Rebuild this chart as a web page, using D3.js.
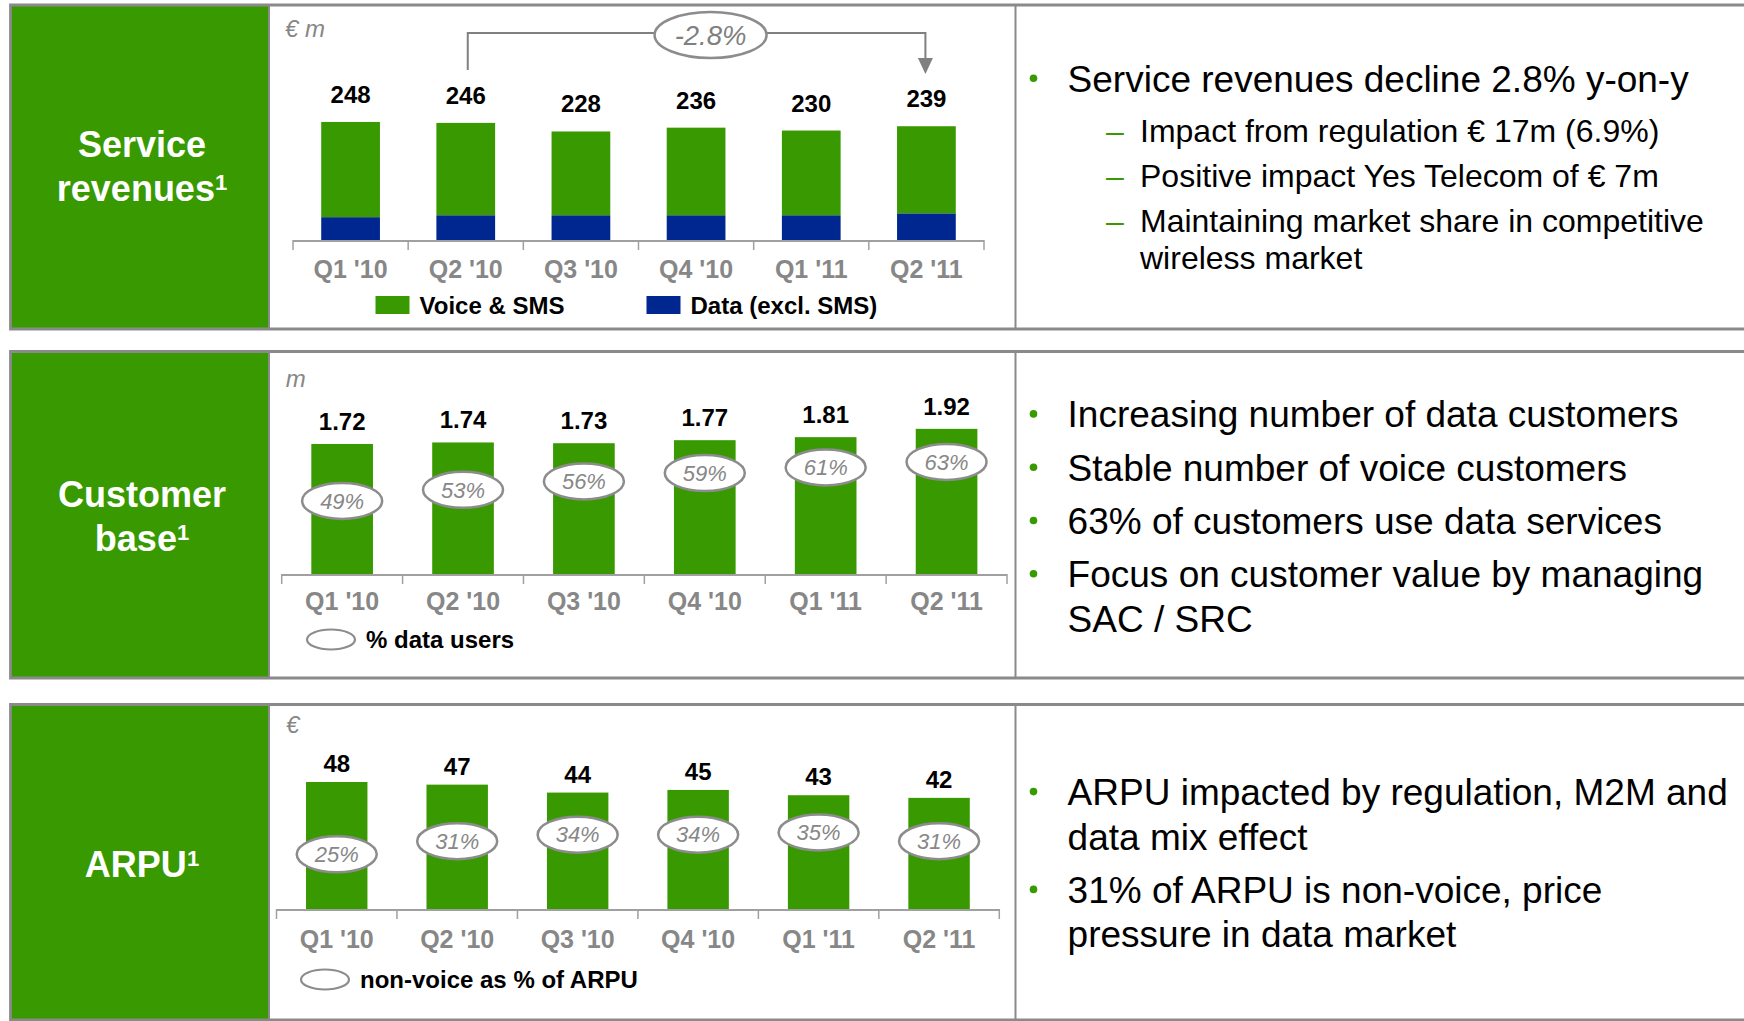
<!DOCTYPE html>
<html>
<head>
<meta charset="utf-8">
<script src="https://cdn.jsdelivr.net/npm/d3@7"></script>
<style>
  html, body { margin: 0; padding: 0; background: #fff; }
  svg { display: block; font-family: "Liberation Sans", Arial, sans-serif; }
</style>
</head>
<body>
<div id="chart"></div>
<script>
const quarters = ["Q1 '10", "Q2 '10", "Q3 '10", "Q4 '10", "Q1 '11", "Q2 '11"];

// Service revenues, € m
const revenueTotal = [248, 246, 228, 236, 230, 239];
const revenueVoice = [200, 194, 176, 184, 178, 183];
const revenueData = [48, 52, 52, 52, 52, 56];
const revenueGrowth = '-2.8%';

// Customer base, m
const customers = [1.72, 1.74, 1.73, 1.77, 1.81, 1.92];
const dataUserShare = [49, 53, 56, 59, 61, 63];

// ARPU, €
const arpu = [48, 47, 44, 45, 43, 42];
const nonVoiceShare = [25, 31, 34, 34, 35, 31];

const revenueNotes = [
  { level: 0, lines: ['Service revenues decline 2.8% y-on-y'] },
  { level: 1, lines: ['Impact from regulation € 17m (6.9%)'] },
  { level: 1, lines: ['Positive impact Yes Telecom of € 7m'] },
  { level: 1, lines: ['Maintaining market share in competitive', 'wireless market'] },
];
const customerNotes = [
  { level: 0, lines: ['Increasing number of data customers'] },
  { level: 0, lines: ['Stable number of voice customers'] },
  { level: 0, lines: ['63% of customers use data services'] },
  { level: 0, lines: ['Focus on customer value by managing', 'SAC / SRC'] },
];
const arpuNotes = [
  { level: 0, lines: ['ARPU impacted by regulation, M2M and', 'data mix effect'] },
  { level: 0, lines: ['31% of ARPU is non-voice, price', 'pressure in data market'] },
];

const W = 1744, H = 1021;
const GREEN = '#389a00', NAVY = '#00278f', BORDER = '#8a8a8a', GREY_TXT = '#878787';

const svg = d3.select('#chart').append('svg').attr('width', W).attr('height', H);

// panel frame: green title box, chart area, notes area
function frame(top, bottom, title, firstBaseline) {
  const g = svg.append('g');
  g.append('rect').attr('x', 11).attr('y', top).attr('width', 257).attr('height', bottom - top).attr('fill', GREEN);
  g.append('path').attr('d', `M${W + 5},${top}H10.5V${bottom}H${W + 5}`)
    .attr('fill', 'none').attr('stroke', BORDER).attr('stroke-width', 2.8);
  [269, 1015.5].forEach(xv => g.append('line').attr('x1', xv).attr('x2', xv).attr('y1', top).attr('y2', bottom)
    .attr('stroke', BORDER).attr('stroke-width', 2));

  const t = g.append('g').attr('fill', '#fff').attr('font-weight', 'bold').attr('font-size', 36).attr('text-anchor', 'middle');
  title.forEach((line, i) => {
    const txt = t.append('text').attr('x', 142).attr('y', firstBaseline + i * 44);
    txt.append('tspan').text(line);
    if (i === title.length - 1) txt.append('tspan').attr('font-size', 22).attr('dy', -11).text('1');
  });
}

function notes(items, firstBaseline) {
  const g = svg.append('g').attr('fill', '#000');
  let yv = firstBaseline, prevLevel = null;
  items.forEach(item => {
    if (prevLevel !== null) {
      yv += item.level ? 45 : 53.3;
      if (prevLevel === 0 && item.level === 1) yv += 5;
    }
    const fs = item.level ? 32 : 37;
    if (item.level === 0) {
      g.append('circle').attr('cx', 1033.5).attr('cy', yv - 13.4).attr('r', 3.8).attr('fill', GREEN);
    } else {
      g.append('text').attr('x', 1106).attr('y', yv).attr('font-size', fs).attr('fill', GREEN).text('–');
    }
    item.lines.forEach((line, i) => {
      if (i) yv += item.level ? 37.5 : 44.5;
      g.append('text').attr('x', item.level ? 1140 : 1067.6).attr('y', yv).attr('font-size', fs).text(line);
    });
    prevLevel = item.level;
  });
}

function axis(x, base, labelBaseline) {
  const g = svg.append('g');
  const [r0, r1] = x.range();
  g.append('line').attr('x1', r0).attr('x2', r1).attr('y1', base + 1).attr('y2', base + 1)
    .attr('stroke', '#a0a0a0').attr('stroke-width', 2);
  g.selectAll('line.tick').data(d3.range(quarters.length + 1)).join('line').attr('class', 'tick')
    .attr('x1', i => r0 + i * x.step()).attr('x2', i => r0 + i * x.step())
    .attr('y1', base).attr('y2', base + 10).attr('stroke', '#a0a0a0').attr('stroke-width', 1.5);
  g.selectAll('text').data(quarters).join('text')
    .attr('x', d => x(d) + x.bandwidth() / 2).attr('y', labelBaseline)
    .attr('text-anchor', 'middle').attr('font-size', 25).attr('font-weight', 'bold').attr('fill', GREY_TXT)
    .text(d => d);
}

function unitLabel(text, xv, yv) {
  svg.append('text').attr('x', xv).attr('y', yv).attr('font-size', 24).attr('font-style', 'italic')
    .attr('fill', GREY_TXT).text(text);
}

function valueLabels(x, y, values, gap, fmt) {
  svg.append('g').selectAll('text').data(values).join('text')
    .attr('x', (d, i) => x(quarters[i]) + x.bandwidth() / 2).attr('y', d => y(d) - gap)
    .attr('text-anchor', 'middle').attr('font-size', 24).attr('font-weight', 'bold').attr('fill', '#000')
    .text(fmt);
}

function pctBubbles(x, yp, values) {
  const g = svg.append('g').selectAll('g').data(values).join('g')
    .attr('transform', (d, i) => `translate(${x(quarters[i]) + x.bandwidth() / 2},${yp(d)})`);
  g.append('ellipse').attr('rx', 40).attr('ry', 18).attr('fill', '#fff').attr('stroke', '#8c8c8c').attr('stroke-width', 2.5);
  g.append('text').attr('y', 7.8).attr('text-anchor', 'middle').attr('font-size', 22).attr('font-style', 'italic')
    .attr('fill', GREY_TXT).text(d => `${d}%`);
}

function bubbleLegend(cx, cy, label) {
  svg.append('ellipse').attr('cx', cx).attr('cy', cy).attr('rx', 24).attr('ry', 10)
    .attr('fill', '#fff').attr('stroke', '#8c8c8c').attr('stroke-width', 2.2);
  svg.append('text').attr('x', cx + 35).attr('y', cy + 8.5).attr('font-size', 24).attr('font-weight', 'bold').text(label);
}

// ---- Panel 1: service revenues (stacked) ----
frame(5, 329, ['Service', 'revenues'], 157.3);
{
  const base = 240;
  const x = d3.scaleBand().domain(quarters).range([293, 984]).paddingInner(0.49).paddingOuter(0.245);
  const y = d3.scaleLinear().domain([0, 250]).range([base, 121]);
  const rows = quarters.map((q, i) => ({ q, data: revenueData[i], voice: revenueVoice[i] }));
  const stack = d3.stack().keys(['data', 'voice'])(rows);
  const colors = { data: NAVY, voice: GREEN };
  svg.append('g').selectAll('g').data(stack).join('g').attr('fill', s => colors[s.key])
    .selectAll('rect').data(s => s).join('rect')
    .attr('x', d => x(d.data.q)).attr('width', x.bandwidth())
    .attr('y', d => y(d[1])).attr('height', d => y(d[0]) - y(d[1]));
  axis(x, base, 277.5);
  valueLabels(x, y, revenueTotal, 19, d => d);
  unitLabel('€ m', 285, 36.7);

  // y-on-y bracket Q2 '10 -> Q2 '11
  const x1 = x(quarters[1]) + x.bandwidth() / 2 + 2;
  const x2 = x(quarters[5]) + x.bandwidth() / 2 - 1;
  const ann = svg.append('g');
  ann.append('path').attr('d', `M${x1},70V33H${x2}V59`).attr('fill', 'none').attr('stroke', '#808080').attr('stroke-width', 2);
  ann.append('path').attr('d', `M${x2 - 7.5},58L${x2 + 7.5},58L${x2},74Z`).attr('fill', '#808080');
  const ex = (x1 + x2) / 2 + 14;
  ann.append('ellipse').attr('cx', ex).attr('cy', 35).attr('rx', 56).attr('ry', 23)
    .attr('fill', '#fff').attr('stroke', '#8c8c8c').attr('stroke-width', 2.5);
  ann.append('text').attr('x', ex).attr('y', 44.5).attr('text-anchor', 'middle').attr('font-size', 27.5)
    .attr('font-style', 'italic').attr('fill', '#808080').text(revenueGrowth);

  // legend
  const lg = svg.append('g').attr('font-size', 24).attr('font-weight', 'bold');
  [['Voice & SMS', GREEN, 375.5], ['Data (excl. SMS)', NAVY, 646.5]].forEach(([label, c, lx]) => {
    lg.append('rect').attr('x', lx).attr('y', 296).attr('width', 34).attr('height', 18).attr('fill', c);
    lg.append('text').attr('x', lx + 44).attr('y', 314).text(label);
  });
}
notes(revenueNotes, 91.7);

// ---- Panel 2: customer base ----
frame(351.5, 678, ['Customer', 'base'], 506.7);
{
  const base = 574;
  const x = d3.scaleBand().domain(quarters).range([281.7, 1007]).paddingInner(0.49).paddingOuter(0.245);
  const y = d3.scaleLinear().domain([0, 2]).range([base, 422.8]);
  const yp = d3.scaleLinear().domain([30, 70]).range([553.9, 442.4]);
  svg.append('g').selectAll('rect').data(customers).join('rect')
    .attr('x', (d, i) => x(quarters[i])).attr('width', x.bandwidth())
    .attr('y', d => y(d)).attr('height', d => base - y(d)).attr('fill', GREEN);
  axis(x, base, 610);
  valueLabels(x, y, customers, 14, d => d.toFixed(2));
  pctBubbles(x, yp, dataUserShare);
  unitLabel('m', 285.7, 386.7);
  bubbleLegend(331, 639.5, '% data users');
}
notes(customerNotes, 427.3);

// ---- Panel 3: ARPU ----
frame(704.5, 1020, ['ARPU'], 877);
{
  const base = 909;
  const x = d3.scaleBand().domain(quarters).range([276.5, 999.3]).paddingInner(0.49).paddingOuter(0.245);
  const y = d3.scaleLinear().domain([0, 50]).range([base, 776.7]);
  const yp = d3.scaleLinear().domain([0, 100]).range([base, 690.4]);
  svg.append('g').selectAll('rect').data(arpu).join('rect')
    .attr('x', (d, i) => x(quarters[i])).attr('width', x.bandwidth())
    .attr('y', d => y(d)).attr('height', d => base - y(d)).attr('fill', GREEN);
  axis(x, base, 948);
  valueLabels(x, y, arpu, 10, d => d);
  pctBubbles(x, yp, nonVoiceShare);
  unitLabel('€', 286, 733);
  bubbleLegend(325, 979.5, 'non-voice as % of ARPU');
}
notes(arpuNotes, 805);
</script>
</body>
</html>
